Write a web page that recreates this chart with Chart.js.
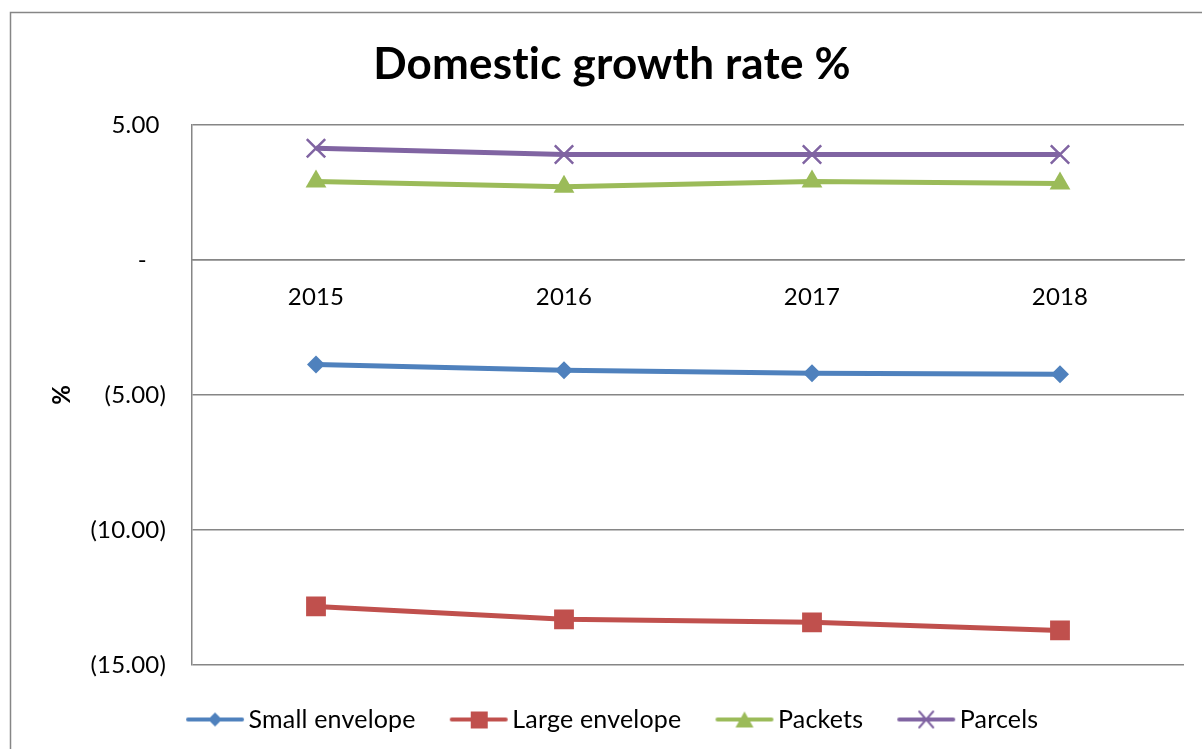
<!DOCTYPE html>
<html>
<head>
<meta charset="utf-8">
<script src="https://cdn.jsdelivr.net/npm/chart.js@4.4.1/dist/chart.umd.min.js"></script>
<style>
    html, body { margin: 0; padding: 0; background: #fff; }
    #wrap { position: relative; width: 1202px; height: 749px; }
</style>
</head>
<body>
<div id="wrap"><canvas id="growthChart"></canvas></div>
<script>
// Values
const years = ['2015', '2016', '2017', '2018'];
const smallEnvelope = [-3.87, -4.09, -4.20, -4.24];
const largeEnvelope = [-12.83, -13.31, -13.42, -13.72];
const packets = [2.90, 2.71, 2.90, 2.83];
const parcels = [4.13, 3.90, 3.90, 3.90];
const yMin = -15, yMax = 5, yStep = 5;

const FONT = 'Lato, "Open Sans", sans-serif';
const GRID = '#868686';

// accounting style labels: 5.00 / - / (5.00)
function accounting(v) {
    if (v === 0) return '-   ';
    if (v < 0) return '(' + Math.abs(v).toFixed(2) + ')';
    return v.toFixed(2) + ' ';
}

// legend symbol: a short line with the marker in its middle
function legendIcon(color, style) {
    const c = document.createElement('canvas');
    c.width = 60; c.height = 22;
    const ctx = c.getContext('2d');
    ctx.strokeStyle = color;
    ctx.fillStyle = color;
    ctx.lineWidth = 4;
    ctx.lineCap = 'round';
    ctx.beginPath();
    ctx.moveTo(3, 11); ctx.lineTo(57, 11);
    ctx.stroke();
    ctx.beginPath();
    if (style === 'diamond') {
        ctx.moveTo(30, 4); ctx.lineTo(37, 11); ctx.lineTo(30, 18); ctx.lineTo(23, 11);
        ctx.fill();
    } else if (style === 'square') {
        ctx.rect(22, 3, 17, 17);
        ctx.fill();
    } else if (style === 'triangle') {
        ctx.moveTo(30, 3); ctx.lineTo(39, 19); ctx.lineTo(21, 19);
        ctx.fill();
    } else {
        ctx.lineWidth = 2;
        ctx.moveTo(23, 3); ctx.lineTo(37, 19);
        ctx.moveTo(37, 3); ctx.lineTo(23, 19);
        ctx.stroke();
    }
    return c;
}

const frame = {
    id: 'frame',
    beforeDraw(chart) {
        const ctx = chart.ctx;
        // keeps "ti" from turning into a ligature in the title
        ctx.letterSpacing = '0.2px';
        ctx.save();
        ctx.strokeStyle = GRID;
        ctx.lineWidth = 1.5;
        ctx.strokeRect(10.5, 12.5, 1400, 900);
        ctx.restore();
    }
};

const series = [
    { label: 'Small envelope', data: smallEnvelope, color: '#4F81BD', style: 'rectRot', radius: 9, icon: 'diamond' },
    { label: 'Large envelope', data: largeEnvelope, color: '#C0504D', style: 'rect', radius: 14, icon: 'square' },
    { label: 'Packets', data: packets, color: '#9BBB59', style: 'triangle', radius: 12, icon: 'triangle' },
    { label: 'Parcels', data: parcels, color: '#8064A2', style: 'crossRot', radius: 13, icon: 'cross' }
];

new Chart(document.getElementById('growthChart'), {
    type: 'line',
    data: {
        labels: years,
        datasets: series.map(s => ({
            label: s.label,
            data: s.data,
            borderColor: s.color,
            backgroundColor: s.color,
            borderWidth: 5,
            pointStyle: s.style,
            pointRadius: s.radius,
            pointHoverRadius: s.radius,
            pointBorderWidth: s.style === 'crossRot' ? 2.5 : 0,
            pointBackgroundColor: s.color,
            pointBorderColor: s.color,
            tension: 0
        }))
    },
    options: {
        responsive: true,
        maintainAspectRatio: false,
        animation: false,
        events: [],
        layout: {
            padding: { left: 40, right: 18, top: 0, bottom: 7 }
        },
        scales: {
            x: {
                position: { y: 0 },
                offset: true,
                grid: { display: false, drawTicks: false },
                border: { display: true, color: GRID, width: 1.5 },
                ticks: {
                    padding: 23,
                    color: '#000',
                    font: { family: FONT, size: 24 }
                }
            },
            y: {
                min: yMin,
                max: yMax,
                afterFit(scale) { scale.width = 152; },
                grid: { color: GRID, lineWidth: 1.5, drawTicks: false },
                border: { display: true, color: GRID, width: 1.5 },
                ticks: {
                    stepSize: yStep,
                    padding: 26,
                    color: '#000',
                    font: { family: FONT, size: 24 },
                    callback: v => accounting(v)
                },
                title: {
                    display: true,
                    text: '%',
                    color: '#000',
                    padding: { top: 8, bottom: 0 },
                    font: { family: FONT, size: 24, weight: 'bold' }
                }
            }
        },
        plugins: {
            title: {
                display: true,
                text: 'Domestic growth rate %',
                color: '#000',
                padding: { top: 38, bottom: 34 },
                font: { family: FONT, size: 44, weight: 'bold' }
            },
            legend: {
                position: 'bottom',
                labels: {
                    usePointStyle: true,
                    pointStyleWidth: 42,
                    padding: 42,
                    color: '#000',
                    font: { family: FONT, size: 25 },
                    generateLabels(chart) {
                        return series.map((s, i) => ({
                            text: s.label,
                            datasetIndex: i,
                            pointStyle: legendIcon(s.color, s.icon),
                            fillStyle: s.color,
                            strokeStyle: s.color,
                            lineWidth: 0,
                            fontColor: '#000',
                            hidden: false
                        }));
                    }
                }
            },
            tooltip: { enabled: false }
        }
    },
    plugins: [frame]
});
</script>
</body>
</html>
